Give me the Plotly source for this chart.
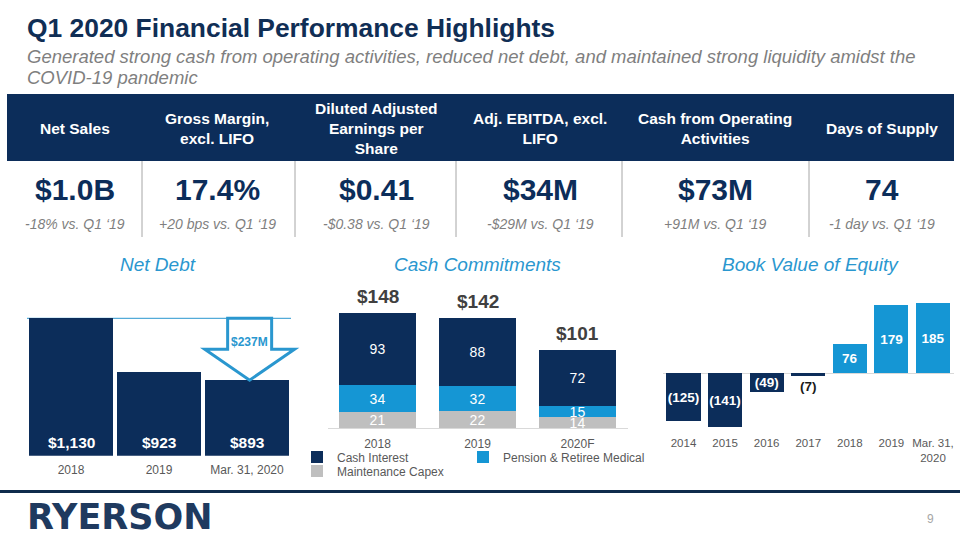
import plotly.graph_objects as go

# ---------------- data ----------------
kpi_labels = ["Net Sales", "Gross Margin,<br>excl. LIFO", "Diluted Adjusted<br>Earnings per<br>Share",
              "Adj. EBITDA, excl.<br>LIFO", "Cash from Operating<br>Activities", "Days of Supply"]
kpi_values = ["$1.0B", "17.4%", "$0.41", "$34M", "$73M", "74"]
kpi_changes = ["-18% vs. Q1 \u201819", "+20 bps vs. Q1 \u201819", "-$0.38 vs. Q1 \u201819",
               "-$29M vs. Q1 \u201819", "+91M vs. Q1 \u201819", "-1 day vs. Q1 \u201819"]

nd_cats = ["2018", "2019", "Mar. 31, 2020"]
nd_vals = [1130, 923, 893]

cc_cats = ["2018", "2019", "2020F"]
cc_interest = [93, 88, 72]
cc_pension = [34, 32, 15]
cc_capex = [21, 22, 14]

bv_cats = ["2014", "2015", "2016", "2017", "2018", "2019", "Mar. 31,<br>2020"]
bv_vals = [-125, -141, -49, -7, 76, 179, 185]

subtitle_lines = ["Generated strong cash from operating activities, reduced net debt, and maintained strong liquidity amidst the",
                  "COVID-19 pandemic"]

# ---------------- style ----------------
W, H = 960, 540
NAVY = "#0C2D5A"
BLUE = "#1596D4"
SECT = "#2A97CF"
GREYBAR = "#BFBFBF"
TICK = "#595959"
FONT = "Liberation Sans, Arial, sans-serif"


def px(x):
    return x / W


def py(y):
    return 1 - y / H


fig = go.Figure()

# ---------------- Net Debt ----------------
nd_x = list(range(len(nd_cats)))
fig.add_trace(go.Bar(x=nd_x, y=nd_vals, marker=dict(color=NAVY, line=dict(width=0)), width=0.965,
                     xaxis="x", yaxis="y", showlegend=False, hoverinfo="x+y"))

# ---------------- Cash Commitments ----------------
cc_x = list(range(len(cc_cats)))
cc_tot = [a + b + c for a, b, c in zip(cc_interest, cc_pension, cc_capex)]
common = dict(xaxis="x2", yaxis="y2", width=0.77, textposition="inside", insidetextanchor="middle",
              constraintext="none", textangle=0, textfont=dict(color="white", size=14, family=FONT))
fig.add_trace(go.Bar(x=cc_x, y=cc_capex, name="Maintenance Capex", marker=dict(color=GREYBAR, line=dict(width=0)),
                     text=[str(v) for v in cc_capex], legend="legend2", **common))
fig.add_trace(go.Bar(x=cc_x, y=cc_pension, name="Pension & Retiree Medical", marker=dict(color=BLUE, line=dict(width=0)),
                     text=[str(v) for v in cc_pension], legend="legend3", **common))
fig.add_trace(go.Bar(x=cc_x, y=cc_interest, name="Cash Interest", marker=dict(color=NAVY, line=dict(width=0)),
                     text=[str(v) for v in cc_interest], legend="legend", **common))

# ---------------- Book Value of Equity ----------------
bv_x = list(range(len(bv_cats)))
bv_colors = [NAVY if v < 0 else BLUE for v in bv_vals]
bv_text = [f"({abs(v)})" if v < 0 else str(v) for v in bv_vals]
bv_pos = ["outside" if abs(v) < 20 else "inside" for v in bv_vals]
fig.add_trace(go.Bar(x=bv_x, y=bv_vals, marker=dict(color=bv_colors, line=dict(width=0)), width=0.82,
                     xaxis="x3", yaxis="y3", showlegend=False, text=bv_text, textposition=bv_pos,
                     insidetextanchor="middle", constraintext="none", textangle=0, cliponaxis=False,
                     insidetextfont=dict(color="white", size=13.5, family=FONT, weight="bold"),
                     outsidetextfont=dict(color="#1a1a1a", size=13.5, family=FONT, weight="bold")))

# ---------------- axes ----------------
tickfont = dict(family=FONT, size=12, color=TICK)
nd_px_per = 88.0
fig.update_layout(
    xaxis=dict(domain=[px(27), px(300)], range=[-0.5, 2.5 + 9 / nd_px_per], tickvals=nd_x, ticktext=nd_cats,
               showgrid=False, zeroline=False, showline=False, ticks="outside", ticklen=3,
               tickcolor="rgba(0,0,0,0)", tickfont=tickfont, fixedrange=True),
    yaxis=dict(domain=[py(455.7), py(310)], range=[603.4, 1161.8], visible=False, fixedrange=True),
    xaxis2=dict(domain=[px(327.5), px(627.5)], range=[-0.5, 2.5], tickvals=cc_x, ticktext=cc_cats,
                showgrid=False, zeroline=False, showline=True, linecolor="#D9D9D9", linewidth=1,
                ticks="outside", ticklen=4, tickcolor="rgba(0,0,0,0)", tickfont=tickfont, anchor="y2"),
    yaxis2=dict(domain=[py(428.3), py(290)], range=[0, 177.5], visible=False, anchor="x2"),
    xaxis3=dict(domain=[px(662.7), px(953.8)], range=[-0.5, 6.5], tickvals=bv_x, ticktext=bv_cats,
                showgrid=False, zeroline=False, showline=False, ticks="outside", ticklen=1,
                tickcolor="rgba(0,0,0,0)", tickfont=dict(family=FONT, size=11.5, color=TICK), anchor="y3"),
    yaxis3=dict(domain=[py(431), py(295)], range=[-151.2, 205.2], showgrid=False, showticklabels=False,
                zeroline=True, zerolinecolor="#D9D9D9", zerolinewidth=1, anchor="x3"),
)

shapes = []
annotations = []
P = dict(xref="paper", yref="paper", showarrow=False)

# title area
annotations.append(dict(text="<b>Q1 2020 Financial Performance Highlights</b>", x=px(25), y=py(28),
                        xanchor="left", yanchor="middle",
                        font=dict(family=FONT, size=26.4, color="#102E55"), **P))
for line, ly in zip(subtitle_lines, [57, 77]):
    annotations.append(dict(text=f"<i>{line}</i>", x=px(25), y=py(ly), xanchor="left", yanchor="middle",
                            align="left", font=dict(family=FONT, size=18.5, color="#7F7F7F"), **P))

# KPI table
shapes.append(dict(type="rect", xref="paper", yref="paper", x0=px(7), x1=px(954), y0=py(161), y1=py(94),
                   fillcolor=NAVY, line=dict(width=0), layer="below"))
col_x = [75, 217, 376, 540, 715, 882]
sep_x = [142, 295, 456, 622, 809]
for sx in sep_x:
    shapes.append(dict(type="line", xref="paper", yref="paper", x0=px(sx), x1=px(sx), y0=py(161), y1=py(237),
                       line=dict(color="#A6A6A6", width=1)))
for cx, lab, val, chg in zip(col_x, kpi_labels, kpi_values, kpi_changes):
    annotations.append(dict(text=f"<b>{lab}</b>", x=px(cx), y=py(128), xanchor="center", yanchor="middle",
                            font=dict(family=FONT, size=15.5, color="white"), **P))
    annotations.append(dict(text=f"<b>{val}</b>", x=px(cx), y=py(189), xanchor="center", yanchor="middle",
                            font=dict(family=FONT, size=30, color=NAVY), **P))
    annotations.append(dict(text=f"<i>{chg}</i>", x=px(cx), y=py(224), xanchor="center", yanchor="middle",
                            font=dict(family=FONT, size=14, color="#7F7F7F"), **P))

# section titles
for t, cx in [("Net Debt", 158), ("Cash Commitments", 477), ("Book Value of Equity", 810)]:
    annotations.append(dict(text=f"<i>{t}</i>", x=px(cx), y=py(264), xanchor="center", yanchor="middle",
                            font=dict(family=FONT, size=19, color=SECT), **P))

# net debt decoration
shapes.append(dict(type="line", xref="x", yref="y", x0=-0.5, x1=2.5, y0=nd_vals[0], y1=nd_vals[0],
                   line=dict(color=SECT, width=1), layer="below"))
head_y = 1011
ax_c, sw, hw = 2.03, 0.25, 0.51
arrow_path = (f"M {ax_c - sw} {nd_vals[0]} L {ax_c + sw} {nd_vals[0]} L {ax_c + sw} {head_y} "
              f"L {ax_c + hw} {head_y} L {ax_c} {nd_vals[-1]} L {ax_c - hw} {head_y} L {ax_c - sw} {head_y} Z")
shapes.append(dict(type="path", xref="x", yref="y", path=arrow_path, fillcolor="white",
                   line=dict(color=SECT, width=3), layer="above"))
annotations.append(dict(text=f"<b>${nd_vals[0] - nd_vals[-1]}M</b>", x=ax_c, y=1040, xref="x", yref="y",
                        showarrow=False, xanchor="center", yanchor="middle",
                        font=dict(family=FONT, size=12, color=SECT)))
for i, v in enumerate(nd_vals):
    annotations.append(dict(text=f"<b>${v:,}</b>", x=i, y=0, xref="x", yref="y domain", xanchor="center",
                            yanchor="bottom", yshift=3, showarrow=False,
                            font=dict(family=FONT, size=15.5, color="white")))

# cash commitments totals
for i, t in enumerate(cc_tot):
    annotations.append(dict(text=f"<b>${t}</b>", x=i, y=t, xref="x2", yref="y2", xanchor="center",
                            yanchor="bottom", yshift=4, showarrow=False,
                            font=dict(family=FONT, size=19, color="#404040")))

# footer
shapes.append(dict(type="line", xref="paper", yref="paper", x0=0, x1=1, y0=py(491.5), y1=py(491.5),
                   line=dict(color="#0E2B4C", width=3)))
annotations.append(dict(text="<b>RYERSON</b>", x=px(25), y=py(517), xanchor="left", yanchor="middle",
                        font=dict(family="DejaVu Sans", size=35, color="#1F3A5F"), **P))
annotations.append(dict(text="9", x=px(930), y=py(519), xanchor="center", yanchor="middle",
                        font=dict(family=FONT, size=12, color="#A6A6A6"), **P))

legend_font = dict(family=FONT, size=12, color=TICK)
leg_common = dict(orientation="h", xanchor="left", yanchor="middle", font=legend_font,
                  bgcolor="rgba(0,0,0,0)", itemwidth=30)
fig.update_layout(
    width=W, height=H, margin=dict(l=0, r=0, t=0, b=0), paper_bgcolor="white", plot_bgcolor="white",
    barmode="stack", font=dict(family=FONT),
    shapes=shapes, annotations=annotations,
    legend=dict(x=px(297), y=py(457), **leg_common),
    legend3=dict(x=px(463), y=py(457), **leg_common),
    legend2=dict(x=px(297), y=py(471), **leg_common),
)

fig.write_html("out.html", config={"displayModeBar": False},
               post_script="document.body.style.margin='0';document.body.style.overflow='hidden';")
